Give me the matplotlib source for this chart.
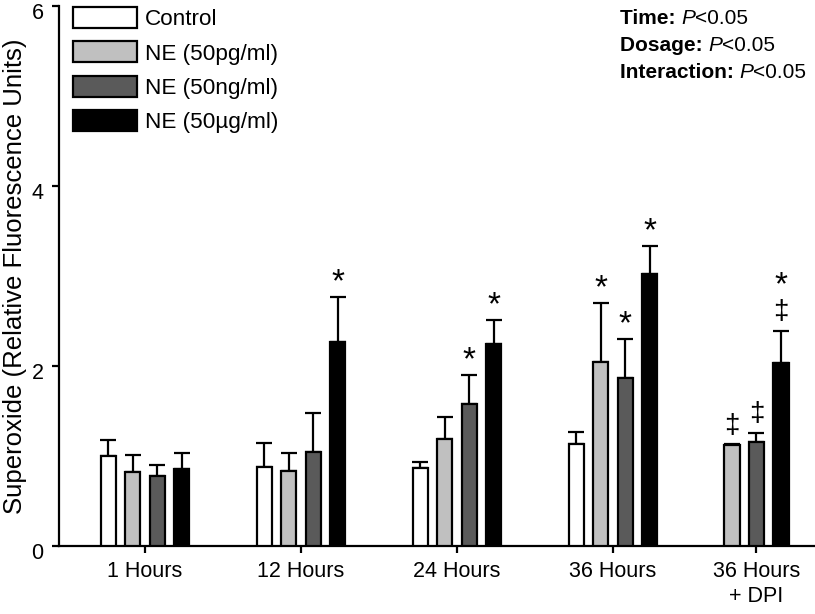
import numpy as np
import matplotlib
matplotlib.use("Agg")
import matplotlib.pyplot as plt
import matplotlib.transforms as mtransforms
from matplotlib.patches import Patch

plt.rcParams['font.family'] = ['Liberation Sans', 'DejaVu Sans']

# data
groups = ['1 Hours', '12 Hours', '24 Hours', '36 Hours', '36 Hours\n+ DPI']
series = ['Control', 'NE (50pg/ml)', 'NE (50ng/ml)', 'NE (50\u00b5g/ml)']
control = [1.00, 0.88, 0.87, 1.13, None]
ne_pg = [0.82, 0.83, 1.19, 2.04, 1.12]
ne_ng = [0.78, 1.04, 1.58, 1.87, 1.16]
ne_ug = [0.86, 2.27, 2.24, 3.02, 2.03]
control_err = [0.18, 0.26, 0.06, 0.14, None]
ne_pg_err = [0.19, 0.20, 0.24, 0.66, 0.01]
ne_ng_err = [0.12, 0.44, 0.32, 0.43, 0.10]
ne_ug_err = [0.17, 0.50, 0.27, 0.31, 0.36]
# significance marks: series index per group
stars = [[], [3], [2, 3], [1, 2, 3], [3]]
daggers = [[], [], [], [], [1, 2, 3]]
stat_names = ['Time:', 'Dosage:', 'Interaction:']
stat_p = ['<0.05', '<0.05', '<0.05']

values = [control, ne_pg, ne_ng, ne_ug]
errors = [control_err, ne_pg_err, ne_ng_err, ne_ug_err]
colors = ['white', '#c0c0c0', '#5a5a5a', 'black']

centers = [0, 1, 2, 3, 3.92]
pitch = 0.157
width = 0.098

fig = plt.figure(figsize=(8.15, 6.14), dpi=100)
ax = fig.add_axes([0.0724, 0.1107, 0.9276, 0.8795])

for g, c in enumerate(centers):
    idx = [i for i in range(4) if values[i][g] is not None]
    n = len(idx)
    for k, i in enumerate(idx):
        x = c + (k - (n - 1) / 2) * pitch
        v = values[i][g]
        e = errors[i][g]
        ax.bar(x, v, width=width, color=colors[i], edgecolor='black',
               linewidth=1.6, zorder=3)
        ax.errorbar(x, v, yerr=[[0], [e]], fmt='none', ecolor='black',
                    elinewidth=1.6, capsize=5.5, capthick=1.6, zorder=2)
        top = v + e
        off = 0
        if i in daggers[g]:
            ax.annotate('\u2021', (x, top), xytext=(0, 4), textcoords='offset points',
                        ha='center', va='bottom', fontsize=20)
            off = 22
        if i in stars[g]:
            ax.annotate('*', (x, top), xytext=(0, off - 1), textcoords='offset points',
                        ha='center', va='bottom', fontsize=24)

ax.set_xlim(-0.551, 4.295)
ax.set_ylim(0, 6)
ax.set_yticks([0, 2, 4, 6])
ax.set_xticks(centers)
ax.set_xticklabels(groups, linespacing=1.2)
ax.tick_params(axis='both', labelsize=15.5, width=1.6, length=5, direction='out')
ax.tick_params(axis='x', pad=6)
ax.tick_params(axis='y', pad=6)
shift = mtransforms.ScaledTranslation(0, -5 / 100, fig.dpi_scale_trans)
for lab in ax.get_yticklabels():
    lab.set_transform(lab.get_transform() + shift)
for s in ['top', 'right']:
    ax.spines[s].set_visible(False)
for s in ['left', 'bottom']:
    ax.spines[s].set_linewidth(1.6)
ax.set_ylabel('Superoxide (Relative Fluorescence Units)', fontsize=18.5, labelpad=3)

handles = [Patch(facecolor=colors[i], edgecolor='black', linewidth=1.6) for i in range(4)]
ax.legend(handles, series, loc='upper left', bbox_to_anchor=(0.018, 0.998),
          frameon=False, fontsize=16.2, handlelength=2.85, handleheight=1.05,
          handletextpad=0.35, labelspacing=0.5, borderpad=0, borderaxespad=0)

for j in range(len(stat_names)):
    y = 1 - (18 + 27.5 * j) / 614
    t1 = fig.text(620 / 815, y, stat_names[j] + ' ', fontsize=15,
                  fontweight='bold', ha='left', va='center')
    a2 = ax.annotate('P', xy=(1, 0), xycoords=t1, fontsize=15, style='italic',
                     ha='left', va='bottom')
    ax.annotate(stat_p[j], xy=(1, 0), xycoords=a2, fontsize=15,
                ha='left', va='bottom')

fig.savefig('out.png', dpi=100)
